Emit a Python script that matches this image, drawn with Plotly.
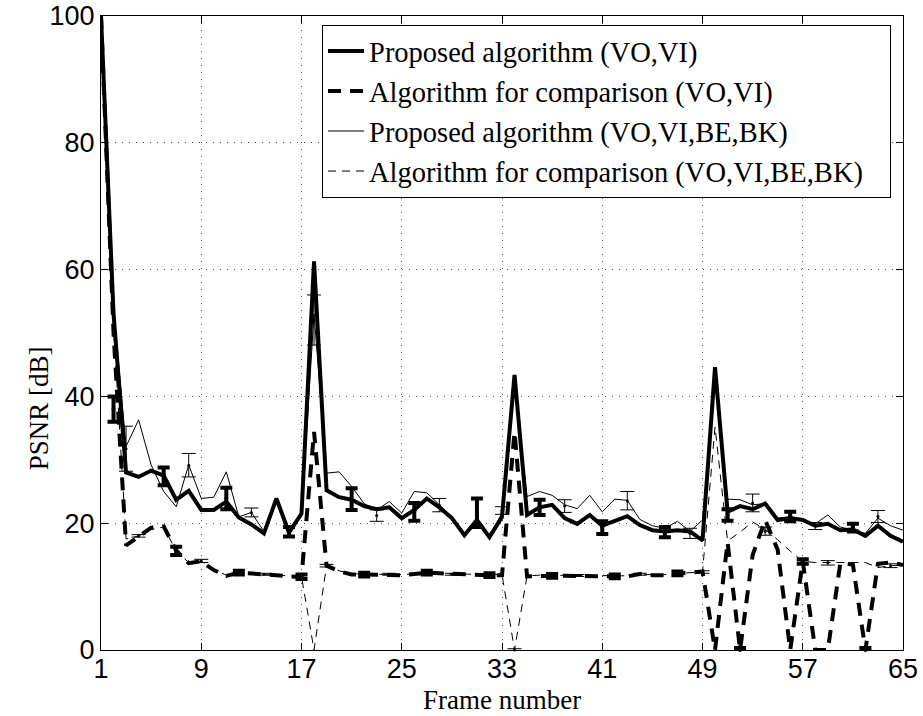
import numpy as np
import plotly.graph_objects as go

frames = list(range(1, 66))

prop_vovi = [100, 53, 28.0, 27.3, 28.3, 27.5, 23.7, 25.1, 22.1, 22.1, 23.4, 20.9, 19.8, 18.4, 23.9, 18.5,
             21.5, 61.3, 25.2, 24.1, 23.7, 22.7, 22.2, 22.5, 20.8, 22.1, 23.9, 22.5, 20.8, 18.1, 20.5, 17.8,
             21.0, 43.4, 21.3, 22.5, 22.9, 20.8, 19.9, 21.3, 19.6, 20.3, 21.1, 19.7, 18.9, 18.7, 18.9, 18.7,
             17.3, 44.6, 21.8, 22.7, 22.2, 23.1, 20.5, 20.8, 20.5, 19.6, 19.9, 18.9, 19.0, 18.0, 19.6, 18.0, 17.1]

comp_vovi = [100, 50, 16.5, 17.9, 19.3, 19.5, 15.7, 13.7, 14.0, 12.6, 11.7, 12.2, 12.1, 12.0, 11.8, 11.6,
             11.5, 34.4, 13.3, 12.4, 11.9, 11.9, 11.9, 11.9, 11.8, 12.0, 12.2, 12.1, 12.0, 12.0, 11.9, 11.8,
             11.8, 34.4, 11.6, 11.7, 11.7, 11.7, 11.7, 11.7, 11.7, 11.6, 11.6, 12.0, 11.8, 11.8, 12.1, 12.2,
             12.4, 0, 17.0, 0, 15.0, 20.5, 15.8, 0, 14.0, 0, 0, 13.7, 13.5, 0, 13.6, 13.8, 13.4]

prop_all = [100, 54, 32.1, 36.3, 29.2, 25.0, 22.6, 29.2, 23.9, 24.1, 28.1, 21.0, 21.7, 18.7, 23.9, 19.2,
            21.3, 53.0, 27.9, 28.1, 25.8, 23.1, 22.1, 23.4, 21.6, 25.0, 24.8, 22.9, 21.0, 18.4, 20.5, 17.9,
            21.6, 42.0, 24.2, 25.0, 24.4, 22.9, 22.3, 24.4, 21.8, 23.8, 23.6, 20.6, 19.6, 19.2, 20.3, 18.7,
            20.5, 43.0, 23.8, 23.7, 22.9, 23.1, 20.8, 21.0, 20.5, 19.9, 21.3, 19.4, 18.9, 18.4, 20.8, 19.6, 18.9]

comp_all = [100, 51, 17.5, 18.0, 19.0, 19.4, 15.6, 13.8, 14.0, 12.7, 11.8, 12.1, 12.0, 11.9, 11.8, 11.7,
            11.6, 0, 13.3, 12.5, 12.0, 12.0, 11.9, 11.9, 11.9, 12.0, 12.1, 12.1, 12.0, 12.0, 11.9, 11.9,
            11.9, 0, 11.7, 11.8, 11.8, 11.8, 11.7, 11.7, 11.8, 11.7, 11.7, 11.9, 11.9, 11.9, 12.1, 12.2,
            12.3, 35.2, 17.2, 18.6, 20.2, 19.0, 17.4, 15.6, 14.0, 13.8, 13.8, 13.8, 13.7, 13.8, 13.0, 13.3, 13.4]

# error bars (x positions, lower and upper ends)
eb_prop_vovi_x = [6, 11, 16, 21, 26, 31, 36, 41, 46, 51, 56, 61]
eb_prop_vovi_lo = [26.0, 22.2, 17.9, 22.1, 20.4, 19.4, 21.3, 18.3, 17.8, 20.4, 20.3, 18.7]
eb_prop_vovi_hi = [28.8, 25.6, 19.4, 25.5, 23.2, 23.9, 23.7, 20.3, 19.4, 22.2, 21.8, 19.9]

eb_comp_vovi_x = [2, 7, 12, 17, 22, 27, 32, 37, 42, 47, 52, 57, 62]
eb_comp_vovi_lo = [36.0, 15.0, 11.9, 11.2, 11.6, 11.9, 11.5, 11.4, 11.3, 11.8, -0.3, 13.6, -0.3]
eb_comp_vovi_hi = [40.0, 16.3, 12.5, 11.9, 12.2, 12.5, 12.1, 12.0, 11.9, 12.4, 0.3, 14.3, 0.3]

eb_prop_all_x = [3, 8, 13, 18, 23, 28, 33, 38, 43, 48, 53, 58, 63]
eb_prop_all_lo = [28.2, 27.3, 21.0, 48.1, 20.3, 21.8, 21.4, 21.7, 22.1, 17.6, 21.8, 19.0, 20.1]
eb_prop_all_hi = [35.3, 31.0, 22.4, 56.0, 22.1, 23.9, 22.6, 23.7, 25.0, 19.2, 24.6, 20.1, 22.0]

eb_comp_all_x = [4, 9, 14, 19, 24, 29, 34, 39, 44, 49, 54, 59, 64]
eb_comp_all_lo = [17.8, 13.8, 11.8, 13.1, 11.8, 11.8, -0.2, 11.6, 11.8, 12.1, 18.1, 13.4, 13.0]
eb_comp_all_hi = [18.2, 14.3, 12.1, 13.5, 12.1, 12.1, 0.2, 11.9, 12.1, 12.5, 19.4, 14.1, 13.6]

names = ["Proposed algorithm (VO,VI)", "Algorithm for comparison (VO,VI)",
         "Proposed algorithm (VO,VI,BE,BK)", "Algorithm for comparison (VO,VI,BE,BK)\u00a0\u00a0\u00a0"]

fig = go.Figure()

def add_eb(x, lo, hi, lw, cap, msize):
    lo = np.array(lo); hi = np.array(hi)
    c = (lo + hi) / 2
    fig.add_trace(go.Scatter(
        x=x, y=c, mode="markers", showlegend=False, hoverinfo="skip",
        marker=dict(color="black", size=msize),
        error_y=dict(type="data", symmetric=False, array=hi - c, arrayminus=c - lo,
                     color="black", thickness=lw, width=cap),
        cliponaxis=False))

# thin series
fig.add_trace(go.Scatter(x=frames, y=comp_all, mode="lines", name=names[3], legendrank=4,
                         legendgroup="d", line=dict(color="black", width=1, dash="8px,6px")))
fig.add_trace(go.Scatter(x=frames, y=prop_all, mode="lines", name=names[2], legendrank=3,
                         legendgroup="c", line=dict(color="black", width=1)))
add_eb(eb_comp_all_x, eb_comp_all_lo, eb_comp_all_hi, 1, 7, 3)
add_eb(eb_prop_all_x, eb_prop_all_lo, eb_prop_all_hi, 1, 7, 3)
# thick series
fig.add_trace(go.Scatter(x=frames, y=comp_vovi, mode="lines", name=names[1], legendrank=2,
                         legendgroup="b", line=dict(color="black", width=4, dash="13px,9px")))
fig.add_trace(go.Scatter(x=frames, y=prop_vovi, mode="lines", name=names[0], legendrank=1,
                         legendgroup="a", line=dict(color="black", width=4)))
add_eb(eb_comp_vovi_x, eb_comp_vovi_lo, eb_comp_vovi_hi, 4, 6, 4)
add_eb(eb_prop_vovi_x, eb_prop_vovi_lo, eb_prop_vovi_hi, 4, 6, 4)

axis_common = dict(showline=True, linecolor="black", linewidth=1, mirror="ticks",
                   ticks="inside", ticklen=7, tickcolor="black", showgrid=True,
                   gridcolor="#555", griddash="1px,6px", gridwidth=1, zeroline=False,
                   automargin=False,
                   tickfont=dict(family="Liberation Sans", size=27, color="black"))

fig.update_xaxes(range=[1, 65], tickvals=[1, 9, 17, 25, 33, 41, 49, 57, 65],
                 ticklabelstandoff=-5, **axis_common)
fig.update_yaxes(range=[0, 100], tickvals=[0, 20, 40, 60, 80, 100], **axis_common)

fig.add_annotation(text="Frame number", xref="paper", yref="paper", x=0.5, y=-0.1035,
                   xanchor="center", yanchor="bottom", showarrow=False, borderpad=0,
                   font=dict(family="Liberation Serif", size=27, color="black"))
fig.add_annotation(text="PSNR [dB]", xref="paper", yref="paper", x=-0.078, y=0.382,
                   xanchor="center", yanchor="middle", showarrow=False, textangle=-90,
                   font=dict(family="Liberation Serif", size=27, color="black"))

fig.update_layout(
    width=923, height=716,
    margin=dict(l=101, r=20, t=16, b=66, autoexpand=False),
    plot_bgcolor="white", paper_bgcolor="white",
    showlegend=True,
    legend=dict(x=0.2756, y=0.986, xanchor="left", yanchor="top",
                bgcolor="white", bordercolor="black", borderwidth=1,
                font=dict(family="Liberation Serif", size=28.5, color="black"),
                itemwidth=36, tracegroupgap=4, traceorder="normal"),
)

fig.write_html("out.html")
